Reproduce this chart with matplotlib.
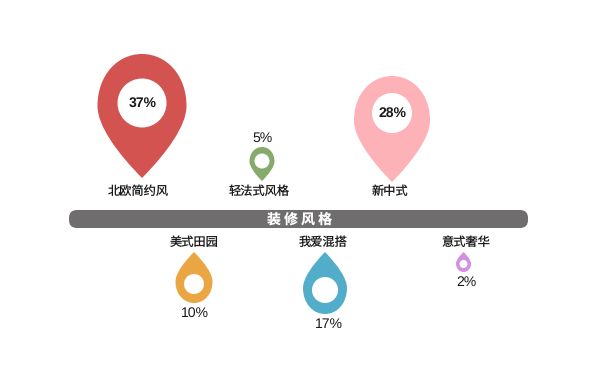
import matplotlib
matplotlib.use("Agg")
import matplotlib.pyplot as plt
from matplotlib.patches import PathPatch, Circle, FancyBboxPatch
from matplotlib.path import Path

plt.rcParams["font.family"] = ["Noto Sans CJK SC", "DejaVu Sans"]
plt.rcParams["text.hinting"] = "none"
plt.rcParams["text.hinting_factor"] = 1

title = "装 修 风 格"

# upper row, pins with the tip pointing down
top_names = ["北欧简约风", "轻法式风格", "新中式"]
top_values = [37, 5, 28]
top_colors = ["#d2534f", "#86a96c", "#fdb2b8"]
top_x = [142, 262, 392]
top_y = [54, 147, 76]
top_w = [89, 25, 76]
top_h = [124, 34, 106]
top_hole_y = [103, 161, 113]
top_hole_r = [24.5, 7.5, 20]
top_name_xy = [(138, 191), (259, 191), (390, 191)]
top_value_xy = [(143, 103.5), (263, 138.5), (393, 113.5)]

# lower row, drops with the tip pointing up
low_names = ["美式田园", "我爱混搭", "意式奢华"]
low_values = [10, 17, 2]
low_colors = ["#eba644", "#52adca", "#d28fe4"]
low_x = [194, 325, 463.5]
low_y = [252, 252, 252]
low_w = [37, 44, 15]
low_h = [51, 62, 20]
low_hole_y = [284, 290, 264]
low_hole_r = [10, 13, 4]
low_name_xy = [(194, 242.5), (323, 242.5), (466, 242.5)]
low_value_xy = [(195, 313.5), (329, 324.5), (466, 282.5)]


def pin(x, y, w, h, flip=False):
    # outline in 0-1 units, top of the head is y=0 and the tip is y=1
    pts = [(0, 0), (0.55, 0), (1, 0.17), (1, 0.42), (1, 0.58), (0.55, 0.8), (0, 1),
           (-0.55, 0.8), (-1, 0.58), (-1, 0.42), (-1, 0.17), (-0.55, 0), (0, 0)]
    codes = [Path.MOVETO] + [Path.CURVE4] * 12
    out = []
    for px, py in pts:
        if flip:
            py = 1 - py
        out.append((x + px * w / 2, y + py * h))
    return Path(out, codes)


fig = plt.figure(figsize=(6, 3.73), dpi=100)
ax = fig.add_axes([0, 0, 1, 1])
ax.set_xlim(0, 600)
ax.set_ylim(373, 0)
ax.axis("off")

ax.add_patch(FancyBboxPatch((69, 210), 459, 18, boxstyle="round,pad=0,rounding_size=8",
                            fc="#6f6d6e", ec="none"))
ax.text(300, 219.5, title, color="white", fontsize=10, fontweight="bold", ha="center", va="center")

for i in range(len(top_names)):
    ax.add_patch(PathPatch(pin(top_x[i], top_y[i], top_w[i], top_h[i]), fc=top_colors[i], ec="none"))
    ax.add_patch(Circle((top_x[i], top_hole_y[i]), top_hole_r[i], fc="white", ec="none"))
    ax.text(*top_name_xy[i], top_names[i], fontsize=8.8, color="#1a1a1a", ha="center", va="center")
    ax.text(*top_value_xy[i], f"{top_values[i]}%", fontsize=10, color="#1a1a1a", ha="center", va="center",
            family="Liberation Sans", fontweight="bold" if top_values[i] > 5 else "normal")

for i in range(len(low_names)):
    ax.add_patch(PathPatch(pin(low_x[i], low_y[i], low_w[i], low_h[i], flip=True), fc=low_colors[i], ec="none"))
    ax.add_patch(Circle((low_x[i], low_hole_y[i]), low_hole_r[i], fc="white", ec="none"))
    ax.text(*low_name_xy[i], low_names[i], fontsize=8.8, color="#1a1a1a", ha="center", va="center")
    ax.text(*low_value_xy[i], f"{low_values[i]}%", fontsize=10, color="#1a1a1a", ha="center", va="center",
            family="Liberation Sans")

fig.savefig("out.png", dpi=100, facecolor="white")
